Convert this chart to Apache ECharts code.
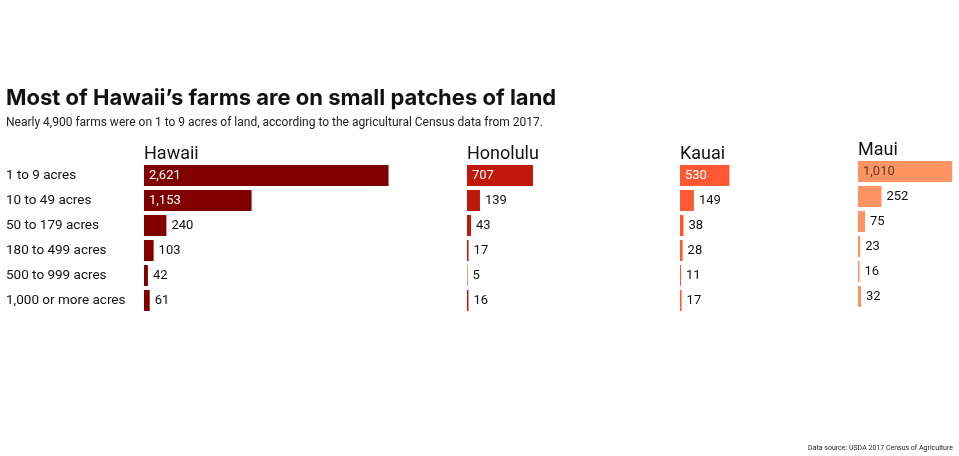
<!DOCTYPE html>
<html>
<head>
<meta charset="utf-8">
<title>Hawaii farms by size</title>
<script src="https://cdn.jsdelivr.net/npm/echarts@6/dist/echarts.min.js"></script>
<style>
  html, body { margin: 0; padding: 0; background: #fff; }
  #chart { width: 959px; height: 456px; }
</style>
</head>
<body>
<div id="chart"></div>
<script>
// 农场面积分组
var sizes = ['1 to 9 acres', '10 to 49 acres', '50 to 179 acres', '180 to 499 acres', '500 to 999 acres', '1,000 or more acres'];
// 各县农场数
var counties = ['Hawaii', 'Honolulu', 'Kauai', 'Maui'];
var hawaii = [2621, 1153, 240, 103, 42, 61];
var honolulu = [707, 139, 43, 17, 5, 16];
var kauai = [530, 149, 38, 28, 11, 17];
var maui = [1010, 252, 75, 23, 16, 32];

var values = [hawaii, honolulu, kauai, maui];
var colors = ['#800000', '#c0190b', '#ff5835', '#ff9463'];
var insideColors = ['#ffffff', '#ffffff', '#ffffff', '#5a3b2c'];

// 每个小图的位置（像素）
var lefts = [144, 467, 680, 858];
var widths = [300, 180, 160, 98];
var tops = [163, 163, 163, 159];
var pxPerFarm = 0.0933; // 所有小图共用同一比例

var fontFamily = 'Roboto, "Noto Sans", sans-serif';

function fmt(v) {
    return v.toLocaleString('en-US');
}

var grids = [], xAxes = [], yAxes = [], series = [], titles = [];

titles.push({
    text: 'Most of Hawaii\u2019s farms are on small patches of land',
    left: 6, top: 87, padding: 0,
    textStyle: { fontFamily: 'Inter, Roboto, sans-serif', fontSize: 22, fontWeight: 'bold', color: '#111' }
});
titles.push({
    text: 'Nearly 4,900 farms were on 1 to 9 acres of land, according to the agricultural Census data from 2017.',
    left: 6, top: 117, padding: 0,
    textStyle: { fontFamily: fontFamily, fontSize: 12, fontWeight: 'normal', color: '#222' }
});
titles.push({
    text: 'Data source: USDA 2017 Census of Agriculture',
    right: 6, top: 445, padding: 0,
    textStyle: { fontFamily: fontFamily, fontSize: 7, fontWeight: 'normal', color: '#222' }
});

for (var i = 0; i < counties.length; i++) {
    grids.push({ left: lefts[i], top: tops[i], width: widths[i], height: 150 });
    xAxes.push({
        type: 'value', gridIndex: i, min: 0, max: widths[i] / pxPerFarm,
        show: false
    });
    yAxes.push({
        type: 'category', gridIndex: i, data: sizes, inverse: true,
        axisLine: { show: false }, axisTick: { show: false }, splitLine: { show: false },
        axisLabel: {
            show: i === 0, align: 'left', margin: 138,
            fontFamily: fontFamily, fontSize: 13.5, color: '#111'
        }
    });
    var items = values[i].map(function (v) {
        var big = v > 500;
        return {
            value: v,
            label: big
                ? { position: 'insideLeft', distance: 5, color: insideColors[i] }
                : { position: 'right', distance: 5, color: '#111' }
        };
    });
    series.push({
        name: counties[i],
        type: 'bar',
        xAxisIndex: i,
        yAxisIndex: i,
        data: items,
        barWidth: 21,
        itemStyle: { color: colors[i] },
        label: {
            show: true,
            fontFamily: fontFamily,
            fontSize: 13,
            formatter: function (p) { return fmt(p.value); }
        },
        silent: true,
        animation: false
    });
    titles.push({
        text: counties[i],
        left: lefts[i], top: tops[i] - 18, padding: 0,
        textStyle: { fontFamily: fontFamily, fontSize: 18, fontWeight: 'normal', color: '#111' }
    });
}

var myChart = echarts.init(document.getElementById('chart'));
var option = {
    backgroundColor: '#fff',
    animation: false,
    title: titles,
    grid: grids,
    xAxis: xAxes,
    yAxis: yAxes,
    series: series
};
myChart.setOption(option);
</script>
</body>
</html>
